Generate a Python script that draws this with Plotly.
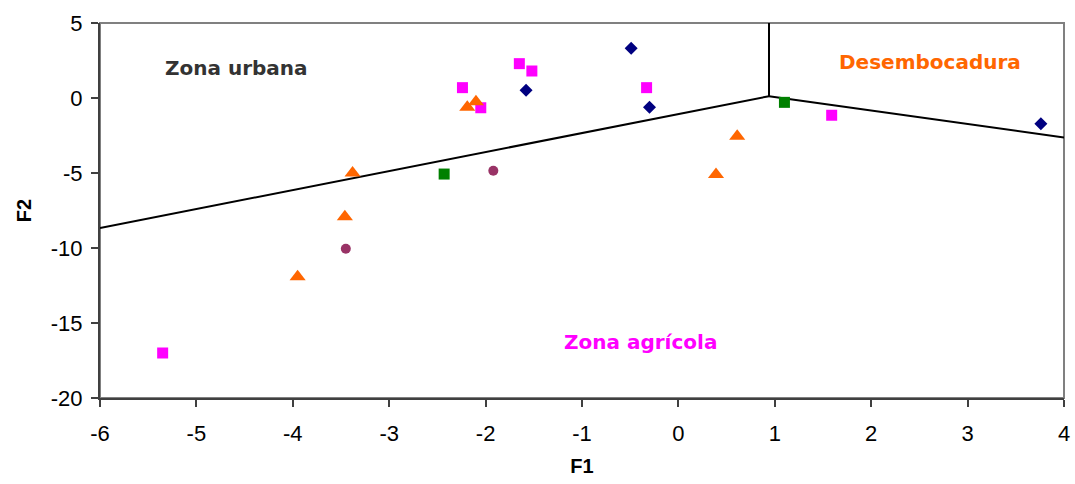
import plotly.graph_objects as go

# Discriminant scores (F1, F2) per sample group
diamond_f1 = [-0.49, -1.58, -0.30, 3.76]
diamond_f2 = [3.31, 0.51, -0.62, -1.71]

pink_f1 = [-1.65, -1.52, -2.24, -0.33, -2.05, 1.59, -5.35]
pink_f2 = [2.29, 1.80, 0.69, 0.69, -0.65, -1.15, -17.0]

tri_f1 = [-2.19, -2.10, 0.61, 0.39, -3.38, -3.46, -3.95]
tri_f2 = [-0.62, -0.25, -2.55, -5.10, -5.00, -7.92, -11.92]

green_f1 = [1.10, -2.43]
green_f2 = [-0.29, -5.07]

circle_f1 = [-1.92, -3.45]
circle_f2 = [-4.85, -10.05]

# Territorial map boundaries
left_border_x = [-6.0, 0.94]
left_border_y = [-8.67, 0.12]
top_border_x = [0.94, 0.94]
top_border_y = [5.0, 0.12]
right_border_x = [0.94, 4.0]
right_border_y = [0.12, -2.63]

# Region labels
zone_names = ["Zona urbana", "Desembocadura", "Zona agrícola"]
zone_x = [-4.58, 2.61, -0.39]
zone_y = [2.03, 2.42, -16.25]
zone_colors = ["#333333", "#FF6600", "#FF00FF"]

x_ticks = list(range(-6, 5))
y_ticks = list(range(-20, 6, 5))

fig = go.Figure()

for bx, by in [(left_border_x, left_border_y),
               (top_border_x, top_border_y),
               (right_border_x, right_border_y)]:
    fig.add_trace(go.Scatter(x=bx, y=by, mode="lines",
                             line=dict(color="black", width=2),
                             hoverinfo="skip", showlegend=False))

fig.add_trace(go.Scatter(x=diamond_f1, y=diamond_f2, mode="markers",
                         marker=dict(symbol="diamond", size=10, color="#000080"),
                         showlegend=False))
fig.add_trace(go.Scatter(x=pink_f1, y=pink_f2, mode="markers",
                         marker=dict(symbol="square", size=11, color="#FF00FF"),
                         showlegend=False))
fig.add_trace(go.Scatter(x=tri_f1, y=tri_f2, mode="markers",
                         marker=dict(symbol="triangle-up", size=14, color="#FF6600"),
                         showlegend=False))
fig.add_trace(go.Scatter(x=green_f1, y=green_f2, mode="markers",
                         marker=dict(symbol="square", size=11, color="#008000"),
                         showlegend=False))
fig.add_trace(go.Scatter(x=circle_f1, y=circle_f2, mode="markers",
                         marker=dict(symbol="circle", size=10, color="#993366"),
                         showlegend=False))

for name, zx, zy, zc in zip(zone_names, zone_x, zone_y, zone_colors):
    fig.add_annotation(x=zx, y=zy, text=f"<b>{name}</b>", showarrow=False,
                       font=dict(family="DejaVu Sans", size=20, color=zc),
                       xanchor="center", yanchor="middle")

# Grey frame around the plotting area
fig.add_shape(type="rect", xref="paper", yref="paper", x0=0, y0=0, x1=1, y1=1,
              line=dict(color="#808080", width=2), layer="below")

axis_font = dict(family="Liberation Sans, Arial", size=22, color="black")
title_font = dict(family="Liberation Sans, Arial", size=20, color="black")

fig.update_layout(
    width=1075, height=484,
    margin=dict(l=100, r=11, t=23, b=86, autoexpand=False),
    plot_bgcolor="white", paper_bgcolor="white",
    xaxis=dict(range=[-6, 4], tickvals=x_ticks, ticktext=[str(v) for v in x_ticks],
               showgrid=False, zeroline=False, automargin=False,
               showline=True, linecolor="#404040", linewidth=2,
               ticks="outside", ticklen=7, tickcolor="#404040", tickwidth=1.5,
               tickfont=axis_font, ticklabelstandoff=8,
               title=dict(text="<b>F1</b>", font=title_font, standoff=14)),
    yaxis=dict(range=[-20, 5], tickvals=y_ticks, ticktext=[str(v) for v in y_ticks],
               showgrid=False, zeroline=False, automargin=False,
               showline=True, linecolor="#404040", linewidth=2,
               ticks="outside", ticklen=7, tickcolor="#404040", tickwidth=1.5,
               tickfont=axis_font, ticklabelstandoff=4,
               title=dict(text="<b>F2</b>", font=title_font, standoff=14)),
)

fig.write_html("out.html")
